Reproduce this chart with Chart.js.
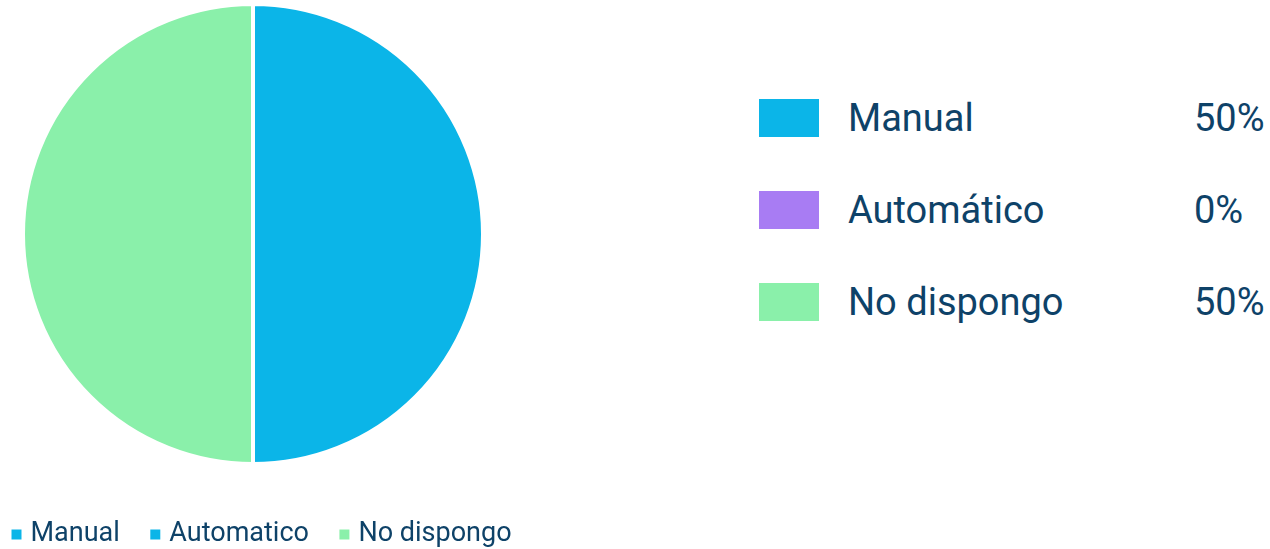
<!DOCTYPE html>
<html>
<head>
<meta charset="utf-8">
<script src="https://cdn.jsdelivr.net/npm/chart.js@4.4.1/dist/chart.umd.min.js"></script>
<style>
  html, body { margin: 0; padding: 0; width: 1270px; height: 549px; overflow: hidden; background: #fff; font-family: Roboto, sans-serif; }
  #pieBox { position: absolute; left: -19px; top: 0; width: 620px; height: 558px; }
  #tabla { position: absolute; left: 759px; top: 99px; }
  .fila { display: flex; align-items: center; height: 38px; margin-bottom: 54px; color: #0e4268; font-size: 38px; }
  .color { width: 60px; height: 38px; }
  .nombre { margin-left: 29px; width: 346px; }
</style>
</head>
<body>
<div id="pieBox"><canvas id="tarta"></canvas></div>
<div id="tabla"></div>
<script>
const categorias = ['Manual', 'Automatico', 'No dispongo'];
const nombresTabla = ['Manual', 'Automático', 'No dispongo'];
const valores = [50, 0, 50];
const coloresTarta = ['#0bb5e8', '#0bb5e8', '#8af0aa'];
const coloresTabla = ['#0bb5e8', '#a87cf3', '#8af0aa'];

const total = valores.reduce((a, b) => a + b, 0);
const tabla = document.getElementById('tabla');
nombresTabla.forEach((n, i) => {
  const fila = document.createElement('div');
  fila.className = 'fila';
  fila.innerHTML = '<div class="color" style="background:' + coloresTabla[i] + '"></div>' +
    '<div class="nombre">' + n + '</div>' +
    '<div>' + Math.round(valores[i] / total * 100) + '%</div>';
  tabla.appendChild(fila);
});

const ctx = document.getElementById('tarta');

new Chart(ctx, {
  type: 'pie',
  data: {
    labels: categorias,
    datasets: [{
      data: valores,
      backgroundColor: coloresTarta,
      borderColor: '#ffffff',
      borderWidth: 4
    }]
  },
  options: {
    responsive: true,
    maintainAspectRatio: false,
    animation: false,
    layout: { padding: { top: 2 } },
    plugins: {
      tooltip: { enabled: false },
      // empty title on the right only to push the pie left of the legend
      title: {
        display: true, position: 'right', fullSize: false, text: '',
        padding: { top: 75, bottom: 0 }, font: { size: 1, lineHeight: 1 }
      },
      legend: {
        position: 'bottom',
        align: 'start',
        title: { display: true, text: '', padding: { top: 19, bottom: 0 }, font: { size: 1, lineHeight: 1 } },
        labels: {
          usePointStyle: true,
          pointStyle: 'rect',
          boxWidth: 1,
          boxHeight: 14,
          padding: 35,
          color: '#0e4268',
          font: { family: 'Roboto', size: 27 }
        }
      }
    }
  }
});
</script>
</body>
</html>
